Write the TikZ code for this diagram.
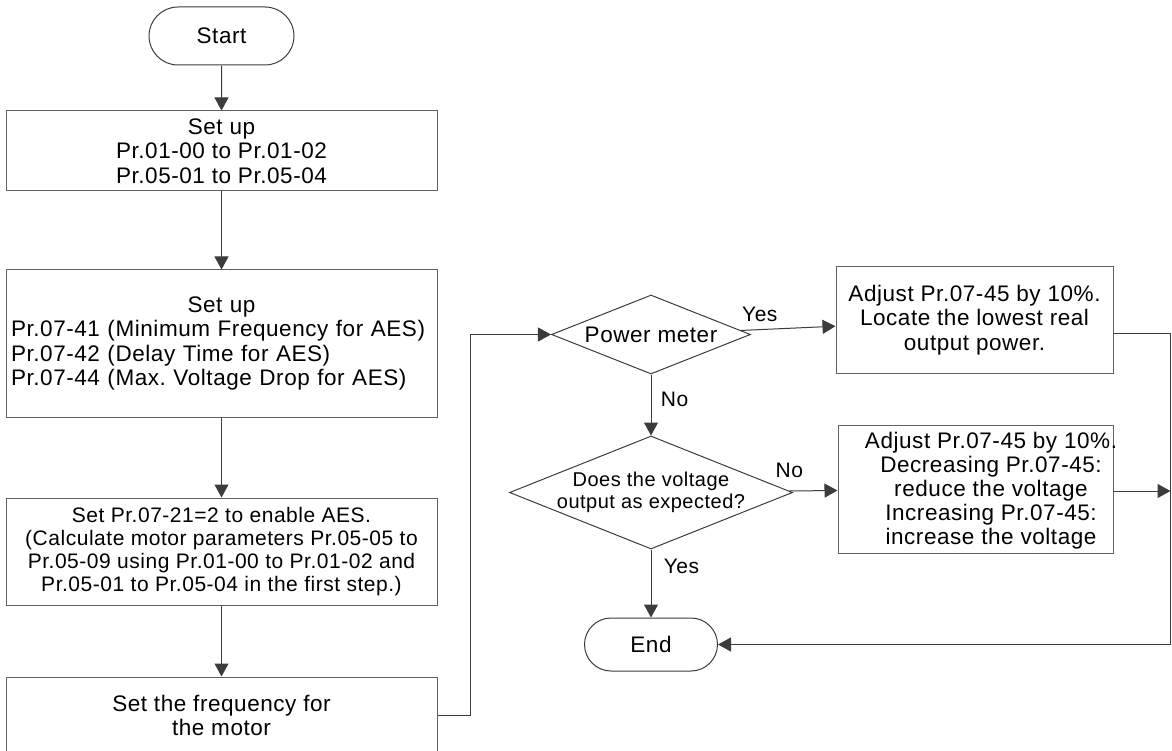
\documentclass[tikz,border=0pt]{standalone}
\usepackage{fontspec}
\setmainfont{Liberation Sans}[LetterSpace=2.5]
\usetikzlibrary{shapes.geometric,shapes.misc,arrows.meta}

\definecolor{linegray}{RGB}{60,60,60}
\definecolor{framegray}{RGB}{96,96,96}

\tikzset{
  flowbox/.style={draw=framegray, line width=1pt, rectangle, inner sep=5pt,
    align=center, font=\fontsize{22.5}{24.5}\selectfont},
  terminal/.style={draw=linegray, line width=1pt, rounded rectangle, inner sep=0pt,
    font=\fontsize{22.5}{24.5}\selectfont},
  decision/.style={draw=linegray, line width=1pt, diamond, inner sep=0pt,
    align=center},
  flowarrow/.style={draw=linegray, line width=1pt,
    -{Triangle[length=13pt,width=14pt]}},
  answer/.style={font=\fontsize{21}{23}\selectfont},
}

\begin{document}
\frenchspacing
\begin{tikzpicture}[x=1pt, y=-1pt]
  % Canvas
  \path[use as bounding box, fill=white] (0,0) rectangle (1172,751);

  % Setup steps
  \node[terminal, minimum width=145pt, minimum height=58pt] (start) at (221.5,36) {Start};
  \node[flowbox, minimum width=431pt, minimum height=80pt] (setup1) at (221.5,151)
    {Set up\\Pr.01-00 to Pr.01-02\\Pr.05-01 to Pr.05-04};
  \node[flowbox, text width=421pt, align=left, minimum height=147pt] (setup2) at (221.5,343.5)
    {\makebox[\hsize]{Set up}\\Pr.07-41 (Minimum Frequency for AES)\\Pr.07-42 (Delay Time for AES)\\Pr.07-44 (Max. Voltage Drop for AES)};
  \node[flowbox, minimum width=431pt, minimum height=107pt, font=\fontsize{21}{23}\selectfont] (enable) at (221.5,551.5)
    {Set Pr.07-21=2 to enable AES.\\(Calculate motor parameters Pr.05-05 to\\Pr.05-09 using Pr.01-00 to Pr.01-02 and\\Pr.05-01 to Pr.05-04 in the first step.)};
  \node[flowbox, minimum width=431pt, minimum height=77pt] (freq) at (221.5,715.5)
    {Set the frequency for\\the motor};

  % Checks
  \node[decision, aspect=2.5, minimum width=199pt, minimum height=79pt,
    font=\fontsize{22.5}{24.5}\selectfont] (meter) at (651,334.5) {Power meter};
  \node[decision, aspect=2.5, inner sep=-3pt, minimum width=283pt, minimum height=113pt,
    font=\fontsize{20}{22}\selectfont] (volt) at (651,492.5) {Does the voltage\\output as expected?};
  \node[terminal, minimum width=133pt, minimum height=53pt] (end) at (651,644.5) {End};

  % Adjustments
  \node[flowbox, minimum width=277pt, minimum height=106pt] (adj1) at (974.5,320)
    {Adjust Pr.07-45 by 10\%.\\Locate the lowest real\\output power.};
  \node[flowbox, minimum width=275pt, minimum height=128pt,
    label={[xshift=15.5pt, yshift=-2pt, align=center, font=\fontsize{22.5}{24}\selectfont]center:{Adjust Pr.07-45 by 10\%.\\Decreasing Pr.07-45:\\reduce the voltage\\Increasing Pr.07-45:\\increase the voltage}}] (adj2) at (975.5,489) {};

  % Connectors
  \draw[flowarrow] (start) -- (setup1);
  \draw[flowarrow] (setup1) -- (setup2);
  \draw[flowarrow] (setup2) -- (enable);
  \draw[flowarrow] (enable) -- (freq);
  \draw[flowarrow] (freq.east) -- ++(33,0) |- (meter);
  \draw[flowarrow] (meter) -- node[answer, pos=0.2, above=4pt] {Yes} (adj1);
  \draw[flowarrow] (meter) -- node[answer, pos=0.4, right=6pt] {No} (volt);
  \draw[flowarrow] (volt) -- node[answer, pos=0, above=9pt] {No} (adj2);
  \draw[flowarrow] (volt) -- node[answer, pos=0.25, right=9pt] {Yes} (end);
  \draw[flowarrow] ([yshift=-13pt]adj1.east) -- ++(57,0) |- (end);
  \draw[flowarrow] ([yshift=-2pt]adj2.east) -- ++(57,0);
\end{tikzpicture}
\end{document}
